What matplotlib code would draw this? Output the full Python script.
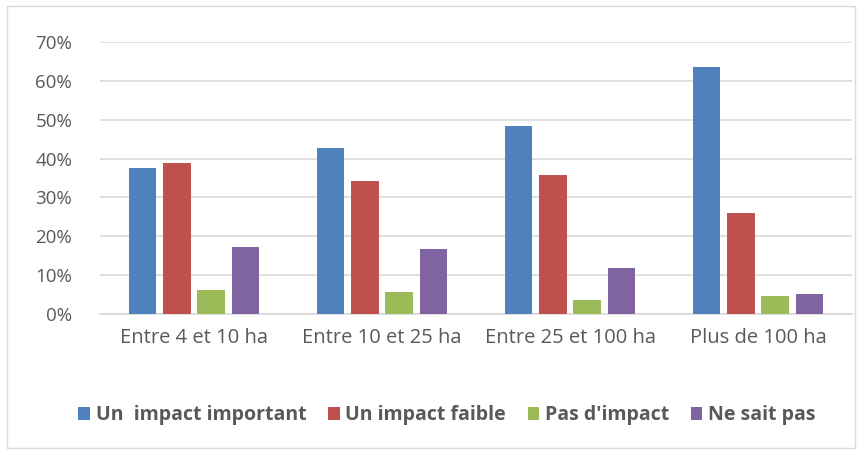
import numpy as np
import matplotlib.pyplot as plt
from matplotlib.patches import Rectangle

categories = ['Entre 4 et 10 ha', 'Entre 10 et 25 ha', 'Entre 25 et 100 ha', 'Plus de 100 ha']
series_names = ['Un  impact important', 'Un impact faible', "Pas d'impact", 'Ne sait pas']
important = [37.6, 42.7, 48.3, 63.6]
faible = [38.9, 34.2, 35.8, 26.0]
pas_impact = [6.2, 5.7, 3.6, 4.7]
ne_sait_pas = [17.2, 16.7, 11.8, 5.1]
yticks = [0, 10, 20, 30, 40, 50, 60, 70]

colors = ['#4F81BD', '#C0504D', '#9BBB59', '#8064A2']
series = [important, faible, pas_impact, ne_sait_pas]

plt.rcParams['font.family'] = ['Open Sans', 'DejaVu Sans']

fig = plt.figure(figsize=(8.63, 4.53), dpi=100)
# outer frame
fig.patches.append(Rectangle((7 / 863, 5 / 453), 848 / 863, 442 / 453,
                             transform=fig.transFigure, fill=False,
                             edgecolor='#D9D9D9', linewidth=1))
ax = fig.add_axes([100 / 863, 139 / 453, 752 / 863, 272 / 453])

x = np.arange(len(categories))
width = 0.144
step = 0.181
for i, (vals, c, name) in enumerate(zip(series, colors, series_names)):
    ax.bar(x + (i - 1.5) * step, vals, width, color=c, label=name, zorder=3)

ax.set_xlim(-0.5, len(categories) - 0.5)
ax.set_ylim(0, 70)
ax.set_yticks(yticks)
ax.set_yticklabels(['%d%%' % t for t in yticks])
ax.set_xticks(x)
ax.set_xticklabels(categories)
ax.tick_params(axis='y', length=0, labelsize=13.5, colors='#595959', pad=20)
ax.tick_params(axis='x', length=0, labelsize=14.5, colors='#595959', pad=10)
ax.grid(axis='y', color='#D9D9D9', linewidth=1.2, zorder=0)
for s in ['top', 'right', 'left']:
    ax.spines[s].set_visible(False)
ax.spines['bottom'].set_color('#D9D9D9')
ax.spines['bottom'].set_linewidth(1.2)

fig.legend(loc='center', bbox_to_anchor=(0.518, 0.083), ncol=4, frameon=False,
           handlelength=0.6, handleheight=0.7, handletextpad=0.3,
           columnspacing=1.1, prop={'weight': 'bold', 'size': 14},
           labelcolor='#595959')

fig.savefig('out.png', dpi=100)
